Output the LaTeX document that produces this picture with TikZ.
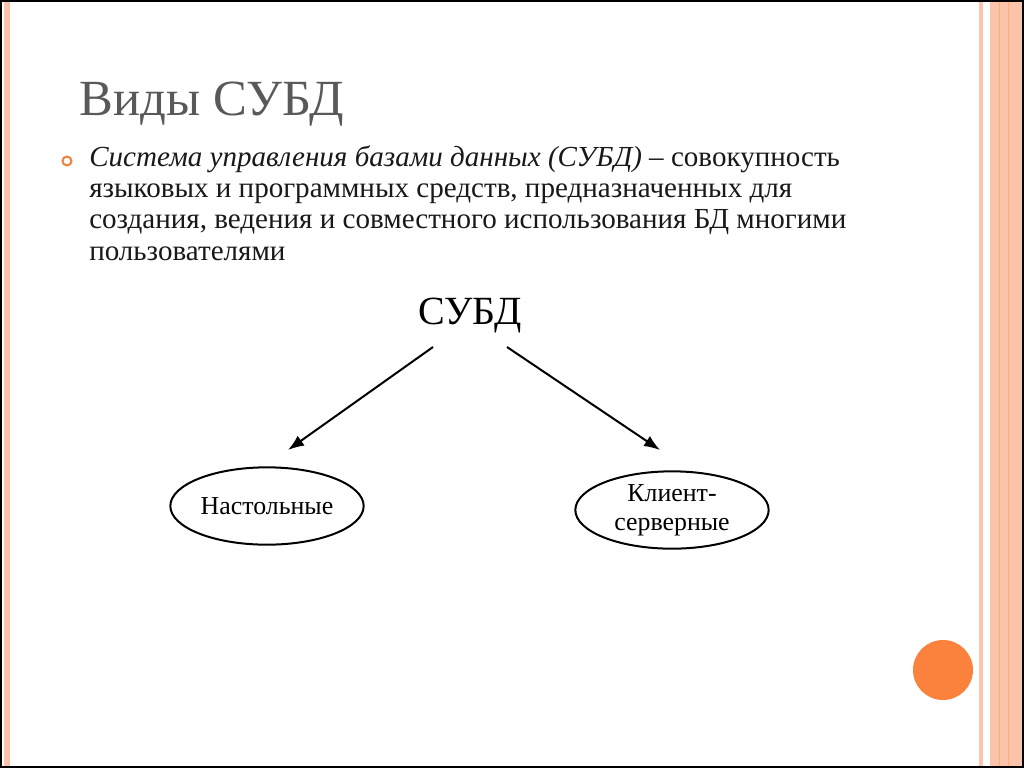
\documentclass[tikz,border=0pt]{standalone}
\usepackage{fontspec}
\setmainfont{Liberation Serif}
\usetikzlibrary{shapes.geometric,arrows.meta}
\definecolor{stripe}{RGB}{250,195,170}
\definecolor{dot}{RGB}{250,130,60}
\begin{document}
\begin{tikzpicture}[x=0.75pt,y=-0.75pt]
    \tikzset{kind/.style={draw, ellipse, line width=1.5pt, minimum width=145pt, minimum height=58pt, inner sep=1pt, font=\fontsize{19.4}{22}\selectfont, align=center}}
    \useasboundingbox (0,0) rectangle (1024,768);
    \fill[white] (0,0) rectangle (1024,768);
    % stripes
    \fill[stripe] (4,2) rectangle (10,766);
    \fill[stripe] (979,2) rectangle (983,766);
    \fill[stripe] (990,2) rectangle (1022,766);
    \draw[stripe!70!orange] (999,2) -- (999,766);
    \draw[stripe!70!orange] (1008,2) -- (1008,766);
    \draw[thick] (1,1) rectangle (1023,767);
    % title and text
    \node[anchor=base west, gray!70!black, font=\fontsize{38}{44}\selectfont] (title) at (75,115) {Виды СУБД};
    \draw[dot!80!brown, line width=1.5pt] (67,161) circle (4.5);
    \node[anchor=north west, align=left, inner sep=0, font=\fontsize{21.8}{23.5}\selectfont, gray!20!black] (def) at (89,145)
        {\textit{Система управления базами данных (СУБД)} – совокупность\\
         языковых и программных средств, предназначенных для\\
         создания, ведения и совместного использования БД многими\\
         пользователями};
    % diagram
    \node[font=\fontsize{30}{34}\selectfont] (dbms) at (470,316) {СУБД};
    \node[kind] (desk) at (267,506) {Настольные};
    \node[kind] (cs) at (672,510) {Клиент-\\серверные};
    \draw[-{Latex[length=12pt]}, line width=1.5pt] (433,347) -- (288,450);
    \draw[-{Latex[length=12pt]}, line width=1.5pt] (507,347) -- (660,450);
    \fill[dot] (943,670) circle (30);
\end{tikzpicture}
\end{document}
